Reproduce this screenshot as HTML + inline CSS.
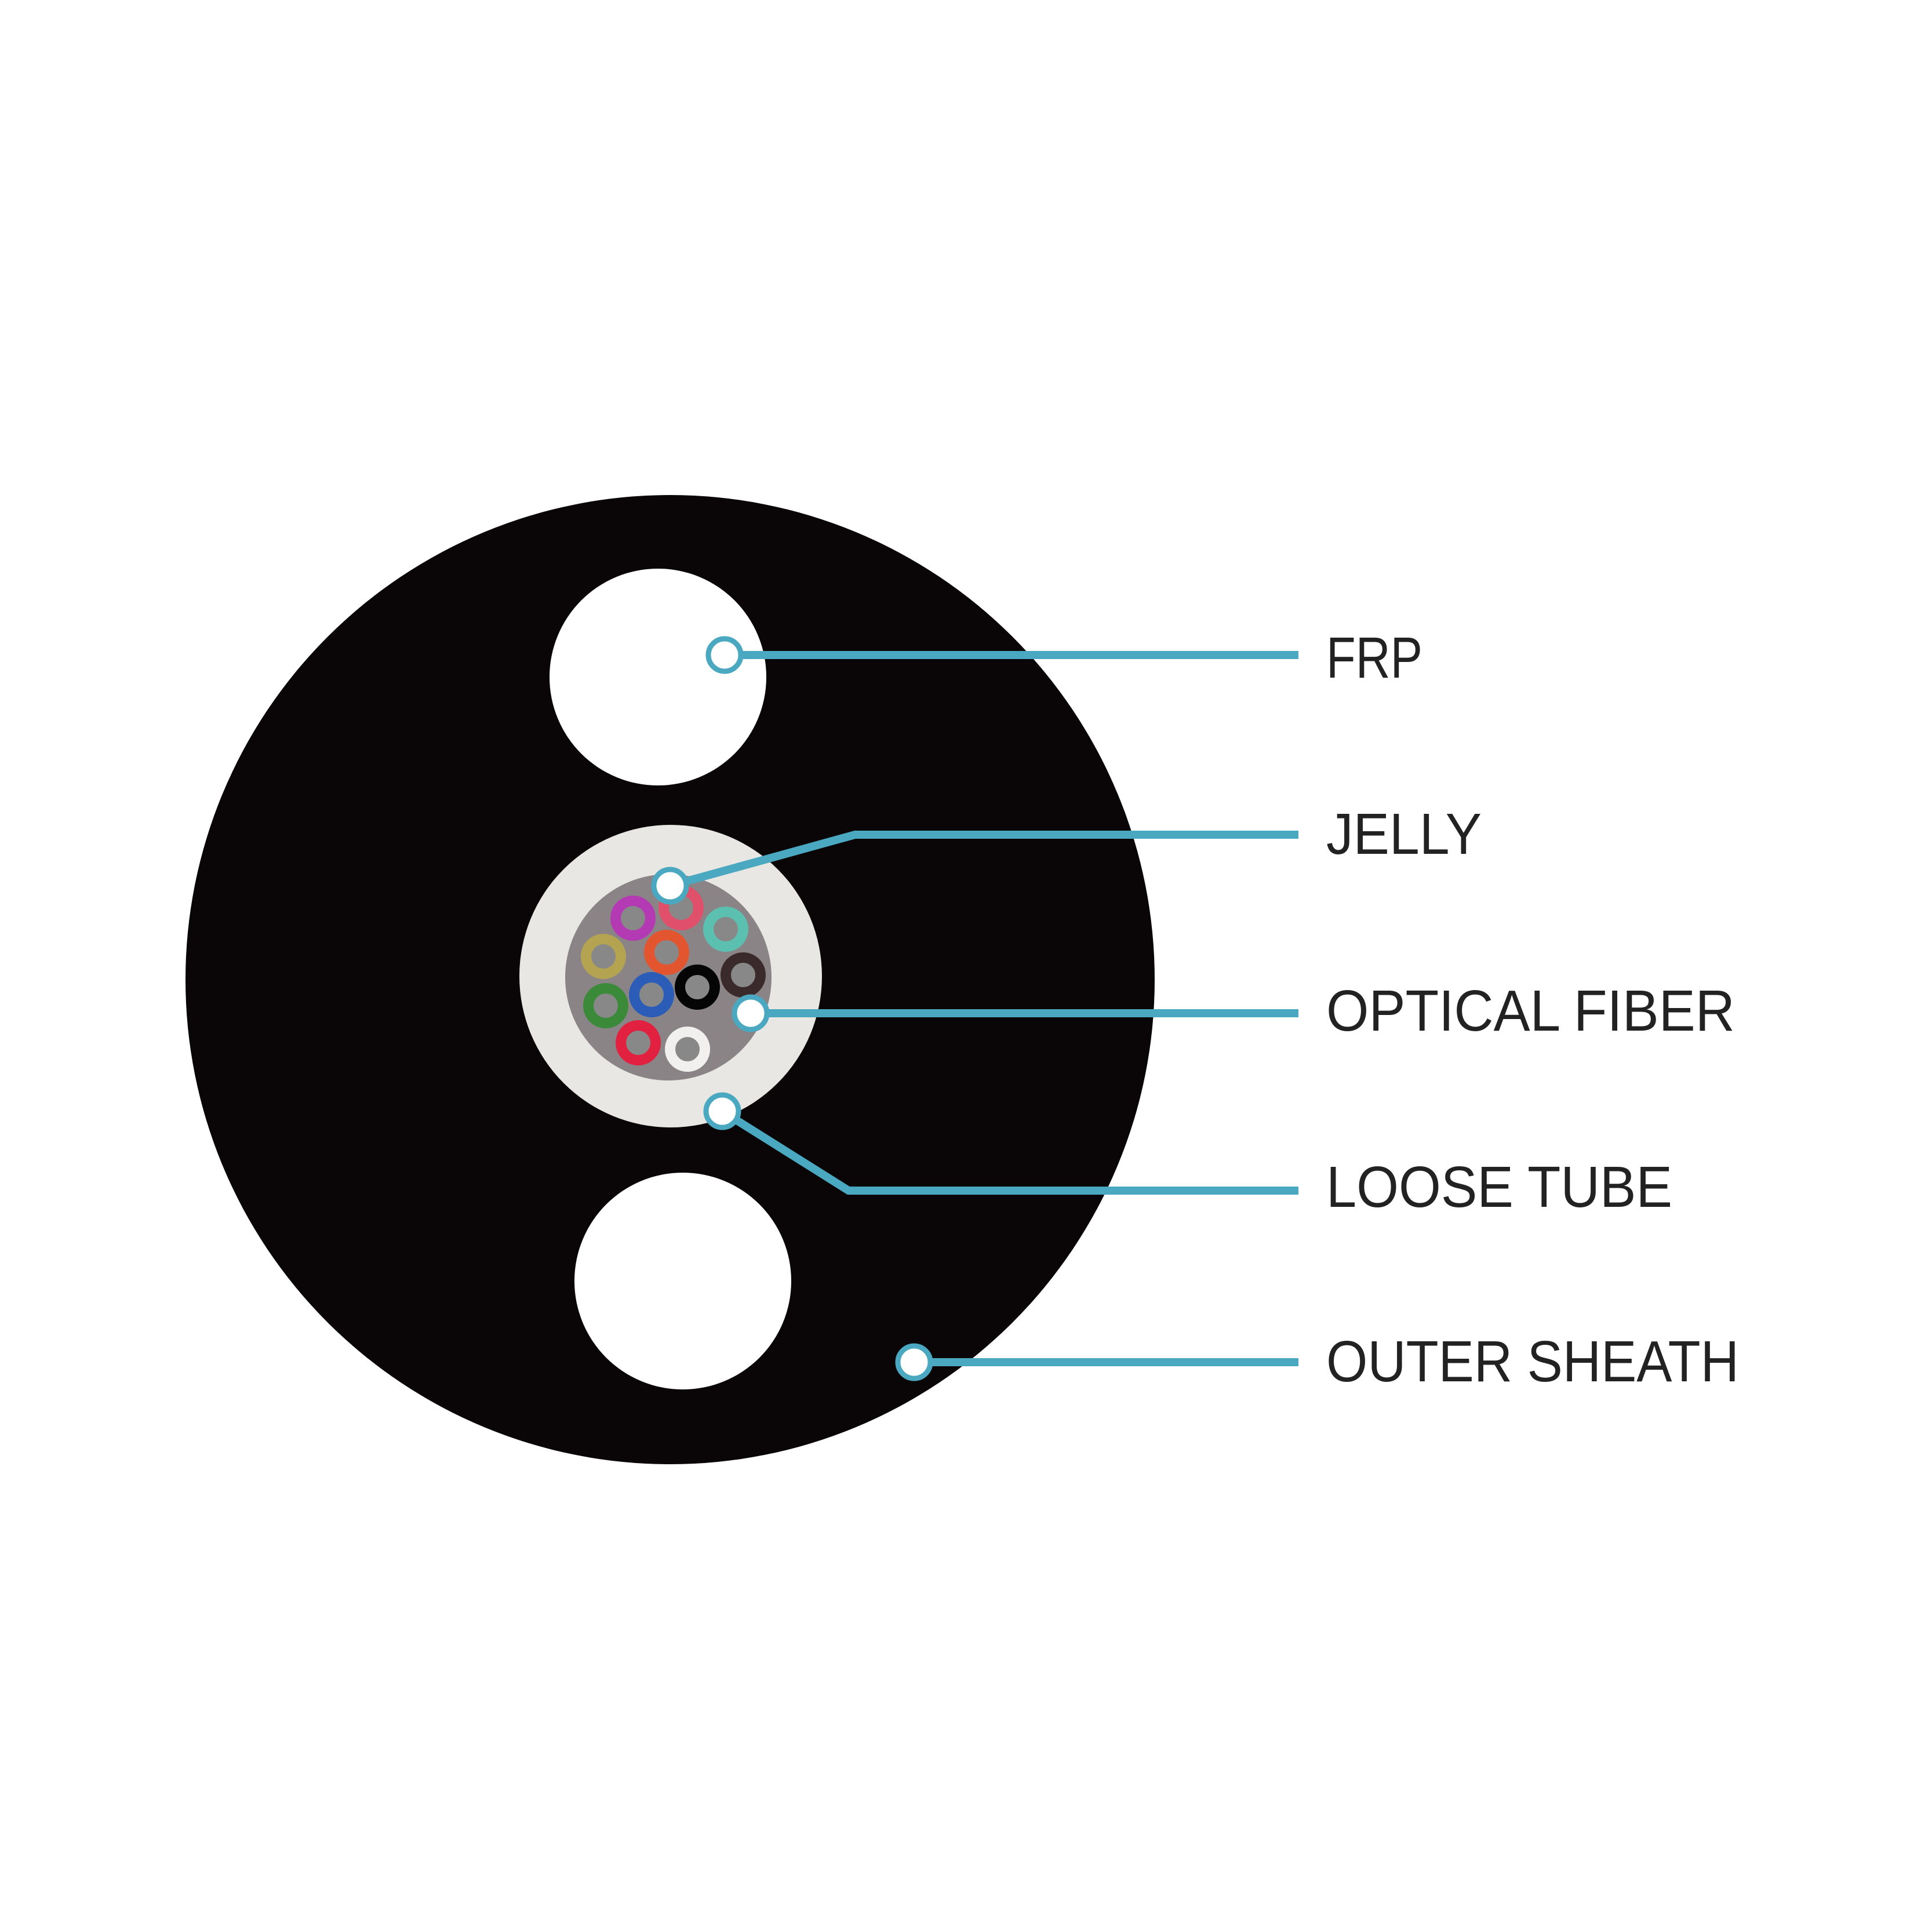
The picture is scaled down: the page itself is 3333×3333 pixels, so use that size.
<!DOCTYPE html>
<html><head><meta charset="utf-8"><style>
html,body{margin:0;padding:0;background:#fff;}
svg{display:block;}
text{font-family:"Liberation Sans",sans-serif;font-size:100px;fill:#222;}
</style></head><body>
<svg width="3333" height="3333" viewBox="0 0 3333 3333" xmlns="http://www.w3.org/2000/svg">
<rect width="3333" height="3333" fill="#fff"/>
<circle cx="1156" cy="1690" r="836" fill="#0a0607"/>
<circle cx="1135" cy="1168" r="187" fill="#fff"/>
<circle cx="1178" cy="2210" r="187" fill="#fff"/>
<circle cx="1157" cy="1684" r="261" fill="#e9e7e4"/>
<circle cx="1153" cy="1686" r="178" fill="#8a8486"/>
<g fill="#888" stroke-width="18">
<circle cx="1092" cy="1584" r="30" stroke="#b43ab4"/>
<circle cx="1175" cy="1566" r="30" stroke="#e0506a"/>
<circle cx="1252" cy="1603" r="30" stroke="#5cc0b0"/>
<circle cx="1041" cy="1650" r="30" stroke="#b4a452"/>
<circle cx="1150" cy="1643" r="30" stroke="#e2552e"/>
<circle cx="1282" cy="1682" r="30" stroke="#3a2a2c"/>
<circle cx="1203" cy="1703" r="30" stroke="#050505"/>
<circle cx="1124" cy="1716" r="30" stroke="#2a5cb8"/>
<circle cx="1045" cy="1735" r="30" stroke="#3a8a3a"/>
<circle cx="1101" cy="1799" r="30" stroke="#e22040"/>
<circle cx="1186" cy="1810" r="30" stroke="#f2f0ee"/>
</g>
<g stroke="#4aa8c0" stroke-width="14" fill="none">
<line x1="1250" y1="1130" x2="2240" y2="1130"/>
<polyline points="1156,1528 1475,1440 2240,1440"/>
<line x1="1295" y1="1748" x2="2240" y2="1748"/>
<polyline points="1246,1917 1464,2054 2240,2054"/>
<line x1="1577" y1="2350" x2="2240" y2="2350"/>
</g>
<g fill="#fff" stroke="#4aa8c0" stroke-width="9">
<circle cx="1250" cy="1130" r="28"/>
<circle cx="1156" cy="1528" r="28"/>
<circle cx="1295" cy="1748" r="28"/>
<circle cx="1246" cy="1917" r="28"/>
<circle cx="1577" cy="2350" r="28"/>
</g>
<text x="2288" y="1169" textLength="166" lengthAdjust="spacingAndGlyphs">FRP</text>
<text x="2288" y="1473" textLength="268" lengthAdjust="spacingAndGlyphs">JELLY</text>
<text x="2288" y="1778" textLength="705" lengthAdjust="spacingAndGlyphs">OPTICAL FIBER</text>
<text x="2288" y="2082" textLength="597" lengthAdjust="spacingAndGlyphs">LOOSE TUBE</text>
<text x="2288" y="2383" textLength="712" lengthAdjust="spacingAndGlyphs">OUTER SHEATH</text>
</svg>
</body></html>
